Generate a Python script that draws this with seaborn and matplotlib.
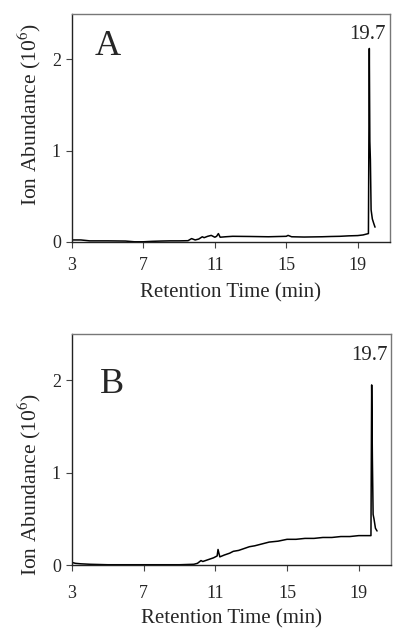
import matplotlib.pyplot as plt
import seaborn as sns
import pandas as pd

# Chromatogram A: retention time (min), ion abundance (10^6)
time_a = [3.0, 3.5, 4.0, 5.0, 6.0, 6.5, 7.0, 7.5, 8.0, 8.5, 9.0, 9.5, 9.7, 9.9,
          10.1, 10.3, 10.4, 10.6, 10.8, 11.0, 11.1, 11.2, 11.3, 11.6, 12.0,
          13.0, 14.0, 15.0, 15.1, 15.3, 16.0, 17.0, 17.5, 18.0, 18.5, 19.0,
          19.3, 19.6, 19.65, 19.68, 19.71, 19.75, 19.82, 19.9, 19.97]
abund_a = [0.02, 0.02, 0.01, 0.01, 0.008, 0.0, 0.0, 0.005, 0.008, 0.01, 0.01,
           0.012, 0.035, 0.02, 0.03, 0.055, 0.045, 0.06, 0.07, 0.05, 0.06,
           0.09, 0.05, 0.055, 0.06, 0.058, 0.055, 0.06, 0.07, 0.055, 0.052,
           0.055, 0.058, 0.06, 0.065, 0.068, 0.075, 0.09, 2.12, 1.1, 0.9, 0.35,
           0.25, 0.2, 0.16]

# Chromatogram B
time_b = [3.0, 3.2, 3.5, 4.0, 5.0, 6.0, 7.0, 8.0, 9.0, 9.8, 10.0, 10.2, 10.3,
          10.6, 10.9, 11.1, 11.15, 11.25, 11.5, 11.8, 12.0, 12.3, 12.6, 12.9,
          13.2, 13.6, 14.0, 14.5, 15.0, 15.5, 16.0, 16.5, 17.0, 17.5, 18.0,
          18.5, 19.0, 19.3, 19.68, 19.72, 19.76, 19.8, 19.85, 19.93, 20.02]
abund_b = [0.03, 0.02, 0.015, 0.01, 0.005, 0.005, 0.005, 0.005, 0.005, 0.01,
           0.02, 0.05, 0.04, 0.06, 0.08, 0.1, 0.17, 0.09, 0.11, 0.13, 0.15,
           0.16, 0.18, 0.2, 0.21, 0.23, 0.25, 0.26, 0.28, 0.28, 0.29, 0.29,
           0.3, 0.3, 0.31, 0.31, 0.32, 0.32, 0.32, 1.95, 1.15, 0.55, 0.5,
           0.4, 0.37]

panels = [("A", time_a, abund_a), ("B", time_b, abund_b)]
x_ticks = [3, 7, 11, 15, 19]
y_ticks = [0, 1, 2]

sns.set_theme(style="ticks")
plt.rcParams["font.family"] = ["Liberation Serif", "DejaVu Serif"]
plt.rcParams["mathtext.fontset"] = "stix"

fig = plt.figure(figsize=(3.93, 6.28), dpi=100)
ax_pos = [[0.183, 0.615, 0.809, 0.363], [0.183, 0.100, 0.812, 0.368]]
letter_pos = [(0.072, 0.855), (0.088, 0.78)]
ylabel_y = [0.557, 0.35]
xlabel_y = [-0.18, -0.19]
tick_pad = [7, 10]

for (name, t, y), pos, lp, yl, xl, tp in zip(panels, ax_pos, letter_pos,
                                             ylabel_y, xlabel_y, tick_pad):
    ax = fig.add_axes(pos)
    df = pd.DataFrame({"t": t, "y": y})
    sns.lineplot(data=df, x="t", y="y", ax=ax, color="black", linewidth=1.1,
                 estimator=None, sort=False)
    ax.set_xlim(3, 20.8)
    ax.set_ylim(0, 2.5)
    ax.set_xticks(x_ticks)
    ax.set_yticks(y_ticks)
    ax.tick_params(labelsize=13, length=4, width=0.8, color="#444444")
    ax.tick_params(axis="x", pad=tp)
    ax.tick_params(axis="y", pad=4)
    ax.set_xlabel("Retention Time (min)", fontsize=15)
    ax.set_ylabel("Ion Abundance (10$^6$)", fontsize=15.5)
    ax.xaxis.set_label_coords(0.5, xl)
    ax.yaxis.set_label_coords(-0.09, yl)
    for side in ["left", "bottom"]:
        ax.spines[side].set_color("#222222")
        ax.spines[side].set_linewidth(1.0)
    for side in ["top", "right"]:
        ax.spines[side].set_color("#777777")
        ax.spines[side].set_linewidth(1.0)
    ax.text(lp[0], lp[1], name, transform=ax.transAxes, fontsize=26,
            ha="left", va="center")
    peak = max(y)
    ax.text(t[y.index(peak)] - 0.1, 2.27, "19.7", fontsize=15,
            ha="center", va="center")

fig.savefig("out.png", dpi=100)
